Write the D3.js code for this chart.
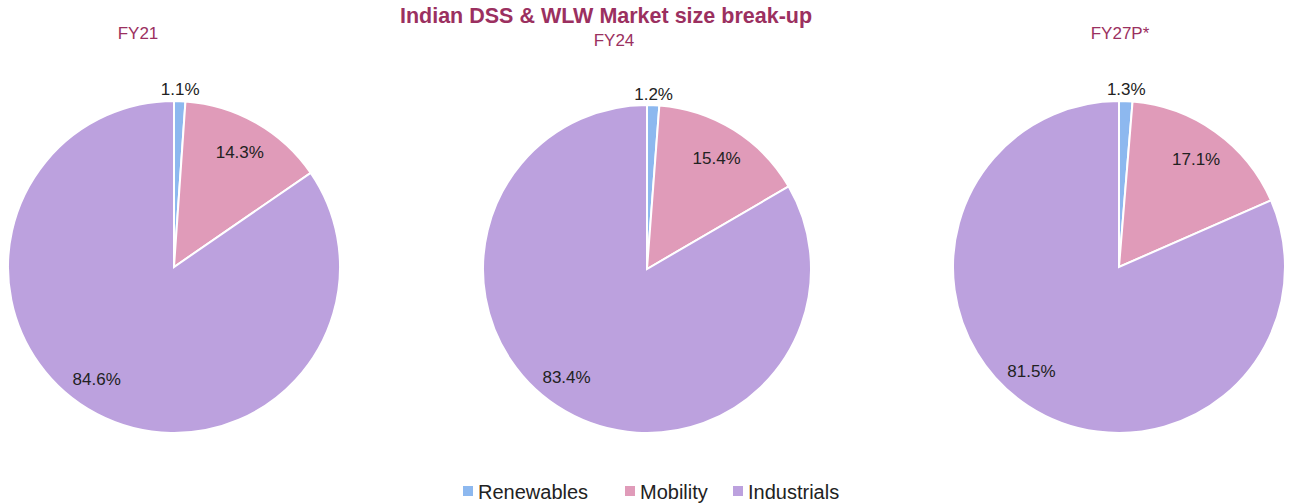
<!DOCTYPE html>
<html>
<head>
<meta charset="utf-8">
<script src="https://cdn.jsdelivr.net/npm/d3@7"></script>
<style>
  body { margin: 0; background: #fff; }
  text { font-family: "Liberation Sans", Arial, sans-serif; }
</style>
</head>
<body>
<div id="chart"></div>
<script>
// Indian DSS & WLW market size break-up

const segments = ["Renewables", "Mobility", "Industrials"];
const years = ["FY21", "FY24", "FY27P*"];
const shares = [
    [1.1, 14.3, 84.6],
    [1.2, 15.4, 83.4],
    [1.3, 17.1, 81.5]
];
const colors = ["#8db8ef", "#e09bb9", "#bca1de"];

let width = 1292,
    height = 504;

const svg = d3.select("#chart")
    .append("svg")
    .attr("width", width)
    .attr("height", height)
    .attr("viewBox", [0, 0, width, height]);

svg.append("text")
    .attr("x", 606)
    .attr("y", 23)
    .attr("text-anchor", "middle")
    .attr("font-size", 21.5)
    .attr("font-weight", "bold")
    .attr("fill", "#9b3060")
    .text("Indian DSS & WLW Market size break-up");

const color = d3.scaleOrdinal(segments, colors);

// pie centres and year-title spots
const cx = [174, 647, 1119],
    cy = [267, 269, 267],
    radius = [166, 164, 166],
    titleX = [138, 614, 1120],
    titleY = [39, 46, 39];

const pie = d3.pie().sort(null).value(d => d.v);

years.forEach((yr, i) => {
    const g = svg.append("g")
        .attr("transform", `translate(${cx[i]},${cy[i]})`);

    const r = radius[i];
    const arc = d3.arc().innerRadius(0).outerRadius(r);
    const arcs = pie(segments.map((s, j) => ({ s, v: shares[i][j] })));

    g.selectAll("path")
        .data(arcs)
        .join("path")
        .attr("d", arc)
        .attr("fill", d => color(d.data.s))
        .attr("stroke", "#fff")
        .attr("stroke-width", 2);

    g.selectAll("text")
        .data(arcs)
        .join("text")
        .attr("transform", d => {
            const a = (d.startAngle + d.endAngle) / 2;
            const k = d.data.v < 5 ? 1.07 : (d.data.v > 50 ? 0.82 : 0.8);
            const off = d.data.v > 50 ? 0.12 : 0;
            return `translate(${Math.sin(a + off) * r * k},${-Math.cos(a + off) * r * k})`;
        })
        .attr("text-anchor", "middle")
        .attr("dy", "0.35em")
        .attr("font-size", 17)
        .attr("fill", "#222")
        .text(d => d.data.v.toFixed(1) + "%");

    svg.append("text")
        .attr("x", titleX[i])
        .attr("y", titleY[i])
        .attr("text-anchor", "middle")
        .attr("font-size", 17)
        .attr("fill", "#9b3060")
        .text(yr);
});

// legend
const legendX = [463, 625, 733];
const legend = svg.append("g");
segments.forEach((s, j) => {
    legend.append("rect")
        .attr("x", legendX[j])
        .attr("y", 486)
        .attr("width", 10)
        .attr("height", 10)
        .attr("fill", color(s));
    legend.append("text")
        .attr("x", legendX[j] + 15)
        .attr("y", 499)
        .attr("font-size", 20)
        .attr("fill", "#222")
        .text(s);
});
</script>
</body>
</html>
